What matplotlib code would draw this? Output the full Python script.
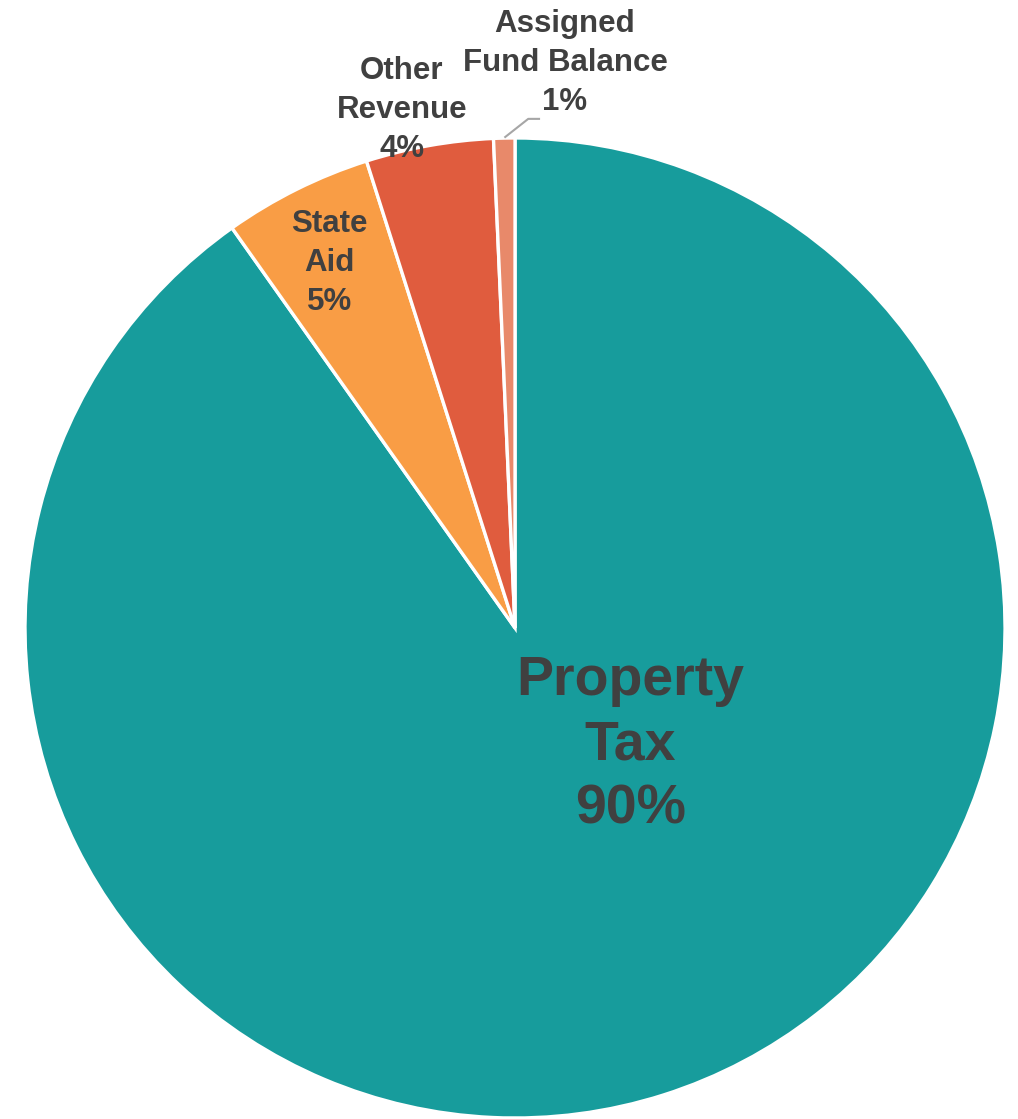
import matplotlib.pyplot as plt

# Revenue shares (percent), clockwise from 12 o'clock
labels = ['Property\nTax', 'State\nAid', 'Other\nRevenue', 'Assigned\nFund Balance']
values = [90.2, 4.9, 4.2, 0.7]
pct_text = ['90%', '5%', '4%', '1%']
colors = ['#179c9c', '#f99d45', '#e05c3e', '#e8896a']

text_color = '#404040'
plt.rcParams['font.family'] = ['Liberation Sans', 'DejaVu Sans']

fig = plt.figure(figsize=(10.18, 11.19), dpi=100)
ax = fig.add_axes([0.02456, 0.000894, 0.9627, 0.8758])

wedges, _ = ax.pie(values, colors=colors, startangle=90, counterclock=False,
                   radius=1.0, wedgeprops=dict(edgecolor='white', linewidth=2.4))

# label positions in data units (pie radius = 1)
label_pos = [(0.235, -0.239), (-0.378, 0.745), (-0.231, 1.057), (0.102, 1.153)]
sizes = [40, 22.5, 22.5, 22.5]
spacing = [1.31, 1.4, 1.4, 1.4]
for lab, pct, (x, y), fs, ls in zip(labels, pct_text, label_pos, sizes, spacing):
    ax.text(x, y, lab + '\n' + pct, ha='center', va='center', fontsize=fs,
            fontweight='bold', color=text_color, linespacing=ls)

# leader line for the small slice
ax.plot([-0.02, 0.027, 0.049], [1.002, 1.039, 1.039], color='#a6a6a6', lw=1.5,
        clip_on=False)

ax.set_xlim(-1, 1)
ax.set_ylim(-1, 1)
ax.set_aspect('equal')
ax.axis('off')

fig.savefig('out.png', dpi=100)
